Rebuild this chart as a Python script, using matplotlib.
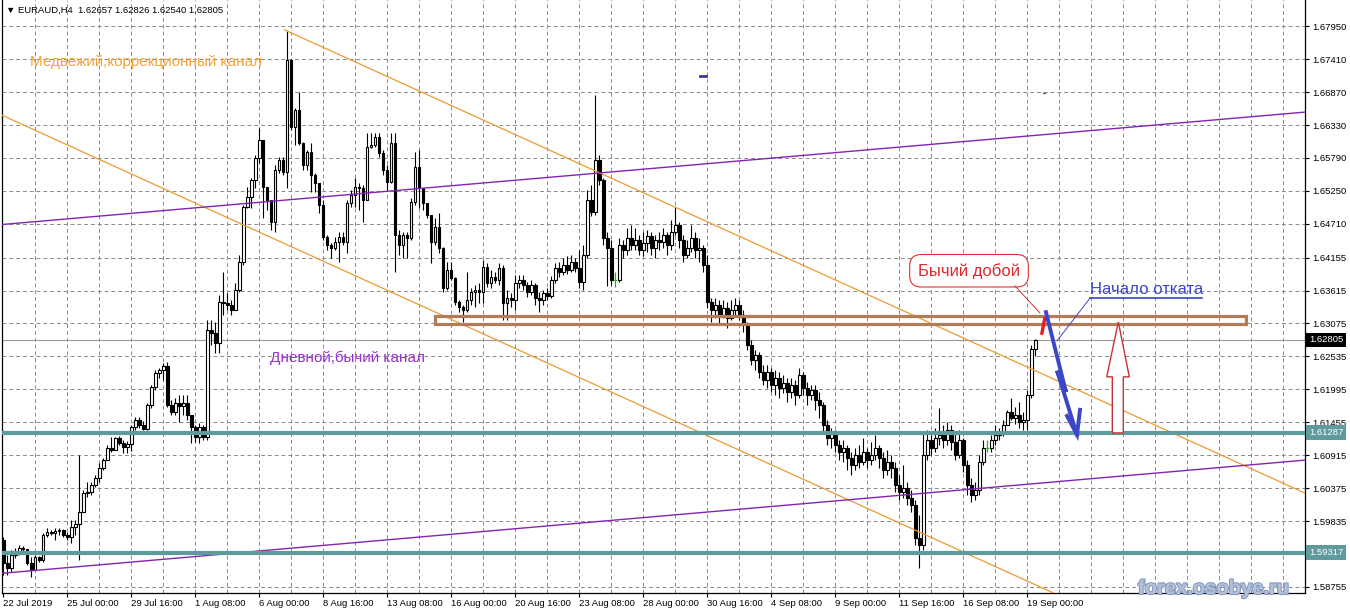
import numpy as np
import matplotlib
matplotlib.use("Agg")
import matplotlib.pyplot as plt
import matplotlib.transforms as mtransforms
import matplotlib.patheffects as pe
from matplotlib.patches import Polygon, Rectangle

plt.rcParams['font.family'] = ['Liberation Sans', 'DejaVu Sans']


# 1. DATOS: velas EURAUD H4 (22 Jul 08:00 -> 19 Sep 08:00)

open_first = 1.5952     # apertura de la primera vela, el resto abre en el cierre anterior

close_px = [
    1.5915, 1.5907, 1.5928, 1.5933, 1.5939, 1.5938, 1.5915, 1.5903, 1.5925, 1.5920,
    1.5961, 1.5966, 1.5964, 1.5967, 1.5969, 1.5961, 1.5957, 1.5974, 1.5979, 1.5998,
    1.6030, 1.6031, 1.6043, 1.6054, 1.6071, 1.6084, 1.6103, 1.6100, 1.6120, 1.6112,
    1.6105, 1.6110, 1.6138, 1.6149, 1.6141, 1.6134, 1.6174, 1.6203, 1.6226, 1.6231,
    1.6238, 1.6174, 1.6162, 1.6177, 1.6172, 1.6177, 1.6157, 1.6138, 1.6121, 1.6138,
    1.6121, 1.6297, 1.6292, 1.6276, 1.6343, 1.6341, 1.6338, 1.6330, 1.6362, 1.6408,
    1.6499, 1.6515, 1.6543, 1.6579, 1.6608, 1.6531, 1.6510, 1.6474, 1.6559, 1.6576,
    1.6556, 1.6740, 1.6630, 1.6658, 1.6604, 1.6567, 1.6589, 1.6551, 1.6538, 1.6502,
    1.6449, 1.6436, 1.6431, 1.6441, 1.6449, 1.6441, 1.6505, 1.6518, 1.6531, 1.6530,
    1.6510, 1.6597, 1.6600, 1.6613, 1.6587, 1.6559, 1.6540, 1.6604, 1.6453, 1.6436,
    1.6453, 1.6448, 1.6507, 1.6564, 1.6530, 1.6505, 1.6485, 1.6441, 1.6466, 1.6431,
    1.6366, 1.6395, 1.6382, 1.6343, 1.6335, 1.6330, 1.6346, 1.6359, 1.6362, 1.6359,
    1.6400, 1.6374, 1.6384, 1.6379, 1.6399, 1.6341, 1.6349, 1.6346, 1.6374, 1.6379,
    1.6371, 1.6359, 1.6371, 1.6349, 1.6346, 1.6358, 1.6353, 1.6379, 1.6399, 1.6392,
    1.6403, 1.6395, 1.6408, 1.6399, 1.6376, 1.6420, 1.6510, 1.6490, 1.6576, 1.6543,
    1.6448, 1.6431, 1.6379, 1.6379, 1.6436, 1.6428, 1.6448, 1.6436, 1.6444, 1.6428,
    1.6440, 1.6451, 1.6431, 1.6444, 1.6441, 1.6453, 1.6436, 1.6458, 1.6469, 1.6444,
    1.6420, 1.6431, 1.6448, 1.6428, 1.6431, 1.6403, 1.6343, 1.6330, 1.6338, 1.6321,
    1.6333, 1.6317, 1.6330, 1.6338, 1.6321, 1.6305, 1.6272, 1.6248, 1.6256, 1.6228,
    1.6215, 1.6228, 1.6207, 1.6218, 1.6202, 1.6210, 1.6195, 1.6207, 1.6190, 1.6223,
    1.6202, 1.6190, 1.6198, 1.6182, 1.6174, 1.6141, 1.6120, 1.6130, 1.6108, 1.6097,
    1.6103, 1.6087, 1.6075, 1.6092, 1.6080, 1.6097, 1.6084, 1.6092, 1.6103, 1.6087,
    1.6067, 1.6080, 1.6071, 1.6043, 1.6031, 1.6038, 1.6021, 1.6010, 1.5956, 1.5944,
    1.6092, 1.6116, 1.6103, 1.6120, 1.6125, 1.6116, 1.6133, 1.6113, 1.6092, 1.6116,
    1.6075, 1.6043, 1.6026, 1.6034, 1.6080, 1.6103, 1.6103, 1.6116, 1.6125, 1.6130,
    1.6141, 1.6162, 1.6153, 1.6157, 1.6146, 1.6149, 1.6190, 1.62657, 1.62805,
]

high_px = [
    1.5957, 1.5928, 1.5936, 1.5939, 1.5944, 1.5943, 1.5936, 1.5925, 1.5928, 1.5926,
    1.5964, 1.5972, 1.5969, 1.5972, 1.5972, 1.5970, 1.5966, 1.5985, 1.5985, 1.6092,
    1.6034, 1.6048, 1.6048, 1.6059, 1.6079, 1.6087, 1.6108, 1.6121, 1.6121, 1.6123,
    1.6116, 1.6115, 1.6141, 1.6154, 1.6154, 1.6148, 1.6177, 1.6207, 1.6231, 1.6235,
    1.6243, 1.6244, 1.6182, 1.6185, 1.6190, 1.6190, 1.6190, 1.6157, 1.6141, 1.6144,
    1.6141, 1.6313, 1.6313, 1.6310, 1.6354, 1.6392, 1.6358, 1.6346, 1.6374, 1.6420,
    1.6502, 1.6531, 1.6546, 1.6584, 1.6628, 1.6608, 1.6531, 1.6499, 1.6567, 1.6581,
    1.6581, 1.6787, 1.6741, 1.6661, 1.6687, 1.6605, 1.6592, 1.6604, 1.6554, 1.6538,
    1.6510, 1.6453, 1.6440, 1.6449, 1.6458, 1.6458, 1.6510, 1.6526, 1.6546, 1.6538,
    1.6535, 1.6620, 1.6620, 1.6620, 1.6620, 1.6592, 1.6567, 1.6620, 1.6620, 1.6461,
    1.6458, 1.6458, 1.6513, 1.6589, 1.6592, 1.6530, 1.6505, 1.6485, 1.6480, 1.6489,
    1.6433, 1.6408, 1.6408, 1.6384, 1.6346, 1.6338, 1.6392, 1.6366, 1.6371, 1.6374,
    1.6412, 1.6407, 1.6395, 1.6392, 1.6407, 1.6403, 1.6362, 1.6357, 1.6387, 1.6387,
    1.6387, 1.6376, 1.6379, 1.6374, 1.6359, 1.6362, 1.6366, 1.6385, 1.6407, 1.6408,
    1.6415, 1.6418, 1.6420, 1.6415, 1.6428, 1.6436, 1.6526, 1.6535, 1.6682, 1.6584,
    1.6546, 1.6458, 1.6444, 1.6392, 1.6448, 1.6444, 1.6464, 1.6469, 1.6464, 1.6453,
    1.6458, 1.6461, 1.6458, 1.6453, 1.6458, 1.6464, 1.6458, 1.6477, 1.6499, 1.6474,
    1.6453, 1.6444, 1.6469, 1.6458, 1.6448, 1.6436, 1.6420, 1.6349, 1.6349, 1.6346,
    1.6346, 1.6343, 1.6346, 1.6349, 1.6346, 1.6330, 1.6310, 1.6280, 1.6264, 1.6261,
    1.6239, 1.6239, 1.6235, 1.6231, 1.6228, 1.6223, 1.6218, 1.6218, 1.6215, 1.6235,
    1.6228, 1.6212, 1.6207, 1.6207, 1.6195, 1.6179, 1.6149, 1.6136, 1.6133, 1.6116,
    1.6116, 1.6108, 1.6097, 1.6103, 1.6108, 1.6120, 1.6103, 1.6113, 1.6125, 1.6108,
    1.6097, 1.6100, 1.6092, 1.6080, 1.6059, 1.6075, 1.6048, 1.6034, 1.6018, 1.5993,
    1.6130, 1.6133, 1.6125, 1.6136, 1.6169, 1.6141, 1.6146, 1.6141, 1.6130, 1.6133,
    1.6120, 1.6084, 1.6054, 1.6048, 1.6092, 1.6116, 1.6116, 1.6125, 1.6141, 1.6136,
    1.6149, 1.6166, 1.6185, 1.6171, 1.6179, 1.6162, 1.6198, 1.6272, 1.62826,
]

low_px = [
    1.5895, 1.5895, 1.5900, 1.5923, 1.5928, 1.5931, 1.5911, 1.5892, 1.5903, 1.5916,
    1.5916, 1.5957, 1.5961, 1.5952, 1.5961, 1.5957, 1.5952, 1.5948, 1.5961, 1.5920,
    1.5998, 1.6023, 1.6026, 1.6039, 1.6048, 1.6067, 1.6084, 1.6097, 1.6103, 1.6108,
    1.6095, 1.6095, 1.6098, 1.6133, 1.6136, 1.6133, 1.6133, 1.6169, 1.6198, 1.6218,
    1.6215, 1.6171, 1.6157, 1.6157, 1.6146, 1.6157, 1.6149, 1.6112, 1.6113, 1.6112,
    1.6116, 1.6116, 1.6272, 1.6259, 1.6259, 1.6321, 1.6330, 1.6321, 1.6335, 1.6359,
    1.6403, 1.6497, 1.6497, 1.6530, 1.6571, 1.6480, 1.6494, 1.6461, 1.6458, 1.6554,
    1.6551, 1.6530, 1.6625, 1.6600, 1.6600, 1.6559, 1.6559, 1.6523, 1.6523, 1.6489,
    1.6444, 1.6428, 1.6415, 1.6428, 1.6408, 1.6436, 1.6423, 1.6499, 1.6499, 1.6494,
    1.6474, 1.6510, 1.6595, 1.6597, 1.6581, 1.6551, 1.6526, 1.6538, 1.6392, 1.6420,
    1.6415, 1.6415, 1.6444, 1.6502, 1.6497, 1.6494, 1.6480, 1.6407, 1.6436, 1.6423,
    1.6359, 1.6362, 1.6379, 1.6338, 1.6326, 1.6310, 1.6326, 1.6338, 1.6335, 1.6341,
    1.6341, 1.6367, 1.6366, 1.6374, 1.6371, 1.6313, 1.6313, 1.6335, 1.6330, 1.6366,
    1.6362, 1.6351, 1.6354, 1.6338, 1.6326, 1.6338, 1.6346, 1.6349, 1.6374, 1.6384,
    1.6387, 1.6389, 1.6392, 1.6392, 1.6366, 1.6362, 1.6415, 1.6484, 1.6485, 1.6535,
    1.6436, 1.6369, 1.6371, 1.6367, 1.6376, 1.6415, 1.6420, 1.6428, 1.6428, 1.6420,
    1.6418, 1.6425, 1.6420, 1.6415, 1.6428, 1.6431, 1.6420, 1.6428, 1.6453, 1.6431,
    1.6408, 1.6415, 1.6425, 1.6415, 1.6408, 1.6392, 1.6333, 1.6310, 1.6317, 1.6305,
    1.6317, 1.6300, 1.6313, 1.6321, 1.6313, 1.6294, 1.6264, 1.6239, 1.6231, 1.6218,
    1.6207, 1.6202, 1.6195, 1.6190, 1.6185, 1.6193, 1.6179, 1.6185, 1.6174, 1.6185,
    1.6190, 1.6174, 1.6182, 1.6166, 1.6153, 1.6130, 1.6108, 1.6103, 1.6097, 1.6084,
    1.6080, 1.6067, 1.6059, 1.6067, 1.6071, 1.6075, 1.6071, 1.6075, 1.6084, 1.6071,
    1.6054, 1.6059, 1.6054, 1.6031, 1.6018, 1.6021, 1.6010, 1.5998, 1.5944, 1.5907,
    1.5936, 1.6084, 1.6092, 1.6097, 1.6108, 1.6103, 1.6108, 1.6100, 1.6084, 1.6087,
    1.6064, 1.6026, 1.6015, 1.6018, 1.6026, 1.6075, 1.6097, 1.6097, 1.6108, 1.6116,
    1.6123, 1.6141, 1.6149, 1.6143, 1.6136, 1.6133, 1.6133, 1.6185, 1.62540,
]

# etiquetas de tiempo, una cada 16 velas
time_labels = ["22 Jul 2019", "25 Jul 00:00", "29 Jul 16:00", "1 Aug 08:00", "6 Aug 00:00",
               "8 Aug 16:00", "13 Aug 08:00", "16 Aug 00:00", "20 Aug 16:00", "23 Aug 08:00",
               "28 Aug 00:00", "30 Aug 16:00", "4 Sep 08:00", "9 Sep 00:00", "11 Sep 16:00",
               "16 Sep 08:00", "19 Sep 00:00"]

# niveles de la escala de precios (MT4)
price_ticks = [1.67950, 1.67410, 1.66870, 1.66330, 1.65790, 1.65250, 1.64710, 1.64155,
               1.63615, 1.63075, 1.62535, 1.61995, 1.61455, 1.60915, 1.60375, 1.59835,
               1.59295, 1.58755]
hidden_tick = 1.59295   # tapado por la etiqueta del nivel 1.59317

header = "\u25BC EURAUD,H4  1.62657 1.62826 1.62540 1.62805"
bid_price = 1.62805
support_levels = [1.61287, 1.59317]

# objetos dibujados sobre el grafico (vela, precio)
orange_upper = [(70.3, 1.6789), (258, 1.6230)]
orange_lower = [(0, 1.6648), (258, 1.5879)]
purple_upper = [(0, 1.6470), (258, 1.6616)]
purple_lower = [(0, 1.5898), (258, 1.6045)]
zone_bars = (108, 310.6)
zone_prices = (1.6306, 1.6319)
red_stroke = [(259.55, 1.6289), (260.4, 1.6318)]
blue_path = [(260.65, 1.6326), (265.65, 1.6195), (263.4, 1.6230), (268.4, 1.6125)]
blue_head = [(265.9, 1.6156), (268.4, 1.6125), (269.15, 1.6166)]
red_up_arrow = [(278.73, 1.6310), (281.48, 1.6220), (279.98, 1.6220), (279.98, 1.6128),
                (277.23, 1.6128), (277.23, 1.6220), (275.83, 1.6220)]


# 2. PREPARAR VELAS

c = np.array(close_px)
hi = np.array(high_px)
lo = np.array(low_px)
o = np.r_[open_first, c[:-1]]
x = np.arange(len(c))
hi = np.maximum(hi, np.maximum(o, c))
lo = np.minimum(lo, np.minimum(o, c))

doji = np.isclose(c, o, atol=1e-7)
up = (c > o) & ~doji
down = (c < o) & ~doji


# 3. FIGURA Y EJES (pixeles 1350x611)

W, H = 1350, 611
fig = plt.figure(figsize=(W / 100, H / 100), dpi=100)
ax = fig.add_axes([2 / W, 18 / H, 1303 / W, 593 / H])
ax.set_xlim(-0.35, -0.35 + 1303 / 4)
ax.set_ylim(1.58655, 1.6838)

grid_kw = dict(color="#8a8a8a", lw=0.7, ls=(0, (4, 3)), zorder=0)
for p in price_ticks:
    ax.axhline(p, **grid_kw)
for g in np.arange(8, 326, 8):
    ax.axvline(g, **grid_kw)


# 4. VELAS

ax.vlines(x[~doji], lo[~doji], hi[~doji], color="black", lw=0.8, zorder=3)
ax.bar(x[up], (c - o)[up], bottom=o[up], width=0.55, color="white",
       edgecolor="black", lw=0.8, zorder=4)
ax.bar(x[down], (o - c)[down], bottom=c[down], width=0.55, color="black",
       edgecolor="black", lw=0.8, zorder=4)
ax.vlines(x[doji], lo[doji], hi[doji], color="#00c800", lw=0.9, zorder=4)
ax.hlines(c[doji], x[doji] - 0.4, x[doji] + 0.4, color="#00c800", lw=0.9, zorder=4)


# 5. OBJETOS: canales, niveles, zona, flechas

def ray(p1, p2, x0, x1):
    k = (p2[1] - p1[1]) / (p2[0] - p1[0])
    return [x0, x1], [p1[1] + k * (x0 - p1[0]), p1[1] + k * (x1 - p1[0])]

xl, xr = ax.get_xlim()
ax.plot(*ray(*orange_upper, orange_upper[0][0], xr), color="#eb9b30", lw=0.9, zorder=5)
ax.plot(*ray(*orange_lower, xl, xr), color="#eb9b30", lw=0.9, zorder=5)
ax.plot(*ray(*purple_upper, xl, xr), color="#8424b4", lw=1.0, zorder=5)
ax.plot(*ray(*purple_lower, xl, xr), color="#8424b4", lw=1.0, zorder=5)

ax.axhline(bid_price, color="#9a9a9a", lw=0.8, zorder=2)
for lvl in support_levels:
    ax.axhline(lvl, color="#5f9b9d", lw=3.0, zorder=5)

ax.add_patch(Rectangle((zone_bars[0], zone_prices[0]), zone_bars[1] - zone_bars[0],
                       zone_prices[1] - zone_prices[0], fill=False,
                       ec="#b27c5a", lw=2.3, zorder=6))

ax.plot(*zip(*red_stroke), color="#e01e1e", lw=2.4, solid_capstyle="butt", zorder=7)
ax.plot(*zip(*blue_path), color="#3b47c8", lw=2.8, solid_joinstyle="miter", zorder=7)
ax.plot(*zip(*blue_head), color="#3b47c8", lw=2.8, solid_joinstyle="miter", zorder=7)
ax.add_patch(Polygon(red_up_arrow, closed=True, fc="white", ec="#c83232", lw=1.0, zorder=6))

# pequeñas marcas azules
ax.plot([174.2, 175.6], [1.6713, 1.6713], color="#3a3a9a", lw=2.0, zorder=5)
ax.plot([260.0, 260.3], [1.6686, 1.6686], color="#6a6aa0", lw=1.0, zorder=5)


# 6. TEXTOS

ax.text(6.65, 1.6729, "Медвежий,коррекционный канал", color="#f5a33a",
        fontsize=11, va="baseline", zorder=8)
ax.text(66.65, 1.6244, "Дневной,бычий канал", color="#9b30d0",
        fontsize=11, va="baseline", zorder=8)
ax.text(241.4, 1.6394, "Бычий добой", color="#e02828", fontsize=12,
        ha="center", va="center", zorder=8,
        bbox=dict(boxstyle="round,pad=0.5,rounding_size=0.7", fc="white",
                  ec="#e03030", lw=0.8))
ax.plot([252.9, 259.1], [1.6369, 1.6325], color="#e03030", lw=0.7, zorder=8)

ax.text(271.65, 1.6356, "Начало отката", color="#3b47c8", fontsize=12,
        va="baseline", zorder=8)
ax.plot([271.65, 299.65], [1.6349, 1.6349], color="#3b47c8", lw=1.2, zorder=8)
ax.plot([271.65, 263.4], [1.6349, 1.6279], color="#3b47c8", lw=0.7, zorder=8)


# 7. EJES ESTILO MT4

for s in ["left", "right", "bottom"]:
    ax.spines[s].set_color("black")
    ax.spines[s].set_linewidth(0.9)
ax.spines["top"].set_visible(False)

ax.yaxis.tick_right()
ax.set_yticks(price_ticks)
ax.set_yticklabels(["" if p == hidden_tick else f"{p:.5f}" for p in price_ticks])
ax.tick_params(axis="y", labelsize=6.8, length=3, pad=2, width=0.8)

ax.set_xticks(np.arange(0, 16 * len(time_labels), 16))
ax.set_xticklabels(time_labels, ha="left")
ax.tick_params(axis="x", labelsize=6.8, length=3, pad=1.5, width=0.8)

# etiquetas con fondo en la escala de precios
lab_tr = mtransforms.offset_copy(
    mtransforms.blended_transform_factory(ax.transAxes, ax.transData),
    fig=fig, x=4, y=0, units="dots")
ax.text(1.0, bid_price, f"{bid_price:.5f}", transform=lab_tr, fontsize=6.8, color="white",
        va="center", ha="left", clip_on=False, zorder=10,
        bbox=dict(boxstyle="square,pad=0.3", fc="black", ec="none"))
for lvl in support_levels:
    ax.text(1.0, lvl, f"{lvl:.5f}", transform=lab_tr, fontsize=6.8, color="white",
            va="center", ha="left", clip_on=False, zorder=10,
            bbox=dict(boxstyle="square,pad=0.3", fc="#5f9b9d", ec="none"))

# cabecera y marca de agua
fig.text(6 / W, 1 - 10 / H, header, fontsize=6.8, va="center", ha="left")
fig.text(1138 / W, (H - 594) / H, "forex.osobye.ru", fontsize=14.5, fontweight="bold",
         color="#b3c2da", va="baseline", ha="left", zorder=20,
         path_effects=[pe.withStroke(linewidth=1.5, foreground="#8699bb")])

fig.savefig("out.png", dpi=100)
